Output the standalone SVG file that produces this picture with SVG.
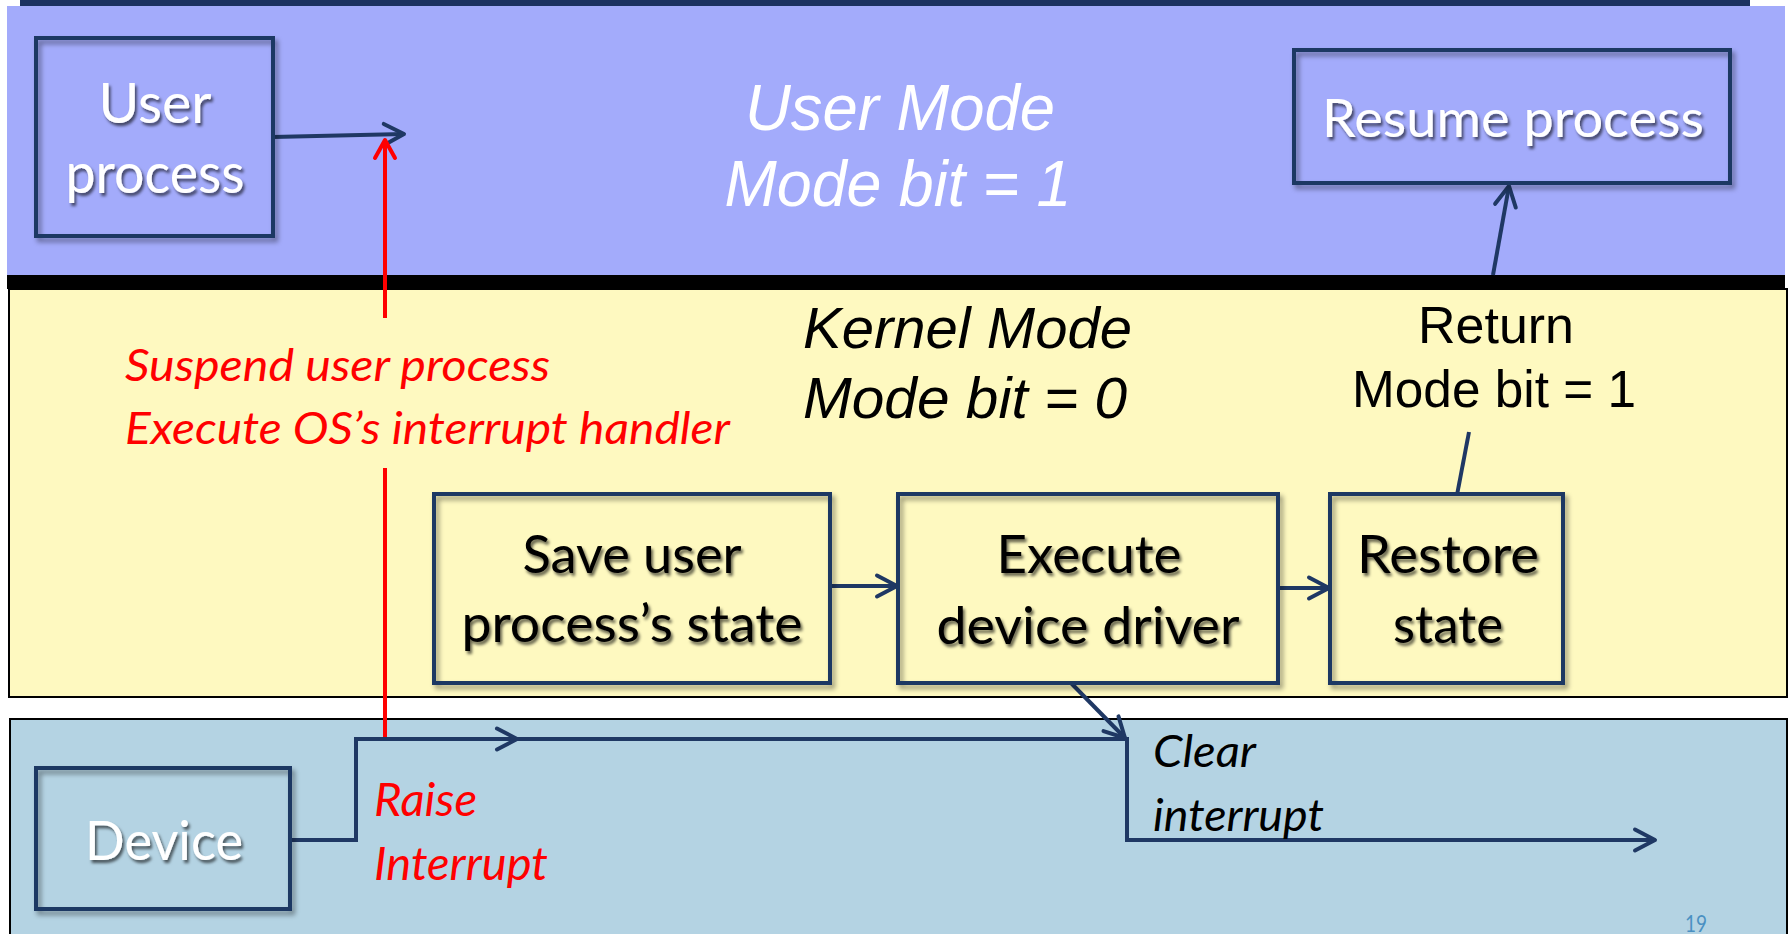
<svg xmlns="http://www.w3.org/2000/svg" width="1790" height="934" viewBox="0 0 1790 934">
  <style>
    .box { fill: none; stroke: #1f3864; stroke-width: 4; filter: url(#boxShadow); }
    .gill { font-family: Lato, "Open Sans", "DejaVu Sans", sans-serif; }
    .arial { font-family: "Liberation Sans", Arial, sans-serif; }
    .lbl-w { fill: #ffffff; filter: url(#textShadow); text-anchor: middle; }
    .lbl-k { fill: #000000; filter: url(#textShadow); text-anchor: middle; }
    .note-red { fill: #ff0000; font-style: italic; }
    .note-k { fill: #000000; font-style: italic; }
    .wire { fill: none; stroke: #1f3864; stroke-width: 4; stroke-linejoin: miter; }
    .wire-red { fill: none; stroke: #ff0000; stroke-width: 4; }
  </style>
  <defs>
    <filter id="boxShadow" x="-10%" y="-10%" width="125%" height="130%">
      <feDropShadow dx="3" dy="4" stdDeviation="2.5" flood-color="#000" flood-opacity="0.4"/>
    </filter>
    <filter id="textShadow" x="-5%" y="-20%" width="115%" height="150%">
      <feDropShadow dx="2" dy="3" stdDeviation="1.6" flood-color="#000" flood-opacity="0.6"/>
    </filter>
    <marker id="chev" markerUnits="userSpaceOnUse" viewBox="-24 -14 28 28" markerWidth="28" markerHeight="28" refX="0" refY="0" orient="auto" overflow="visible">
      <path d="M-20,-10.5 L0,0 L-20,10.5" fill="none" stroke="#1f3864" stroke-width="4" stroke-linecap="round" stroke-linejoin="round"/>
    </marker>
    <marker id="chevRed" markerUnits="userSpaceOnUse" viewBox="-24 -14 28 28" markerWidth="28" markerHeight="28" refX="0" refY="0" orient="auto" overflow="visible">
      <path d="M-18,-10 L0,0 L-18,10" fill="none" stroke="#ff0000" stroke-width="4" stroke-linecap="round" stroke-linejoin="round"/>
    </marker>
  </defs>

  <!-- mode bands -->
  <g id="bands">
    <rect x="20" y="0" width="1730" height="6" fill="#1c3260"/>
    <rect x="7" y="6" width="1778" height="270" fill="#a3abfb"/>
    <rect x="9" y="289" width="1778" height="408" fill="#fef9c0" stroke="#000" stroke-width="2"/>
    <rect x="7" y="275" width="1778" height="14" fill="#000"/>
    <rect x="10" y="719" width="1777" height="230" fill="#b4d3e3" stroke="#000" stroke-width="2"/>
  </g>

  <!-- band titles -->
  <g id="user-mode-title" class="arial" font-style="italic" font-size="64" fill="#fff" text-anchor="middle">
    <text x="900" y="130" textLength="310" lengthAdjust="spacingAndGlyphs">User Mode</text>
    <text x="898" y="206" textLength="347" lengthAdjust="spacingAndGlyphs">Mode bit = 1</text>
  </g>
  <g id="kernel-mode-title" class="arial" font-style="italic" font-size="58" fill="#000">
    <text x="803" y="348" textLength="329" lengthAdjust="spacingAndGlyphs">Kernel Mode</text>
    <text x="803" y="418" textLength="324" lengthAdjust="spacingAndGlyphs">Mode bit = 0</text>
  </g>

  <!-- connectors -->
  <g id="connectors">
    <path class="wire" d="M273,137 L404,134" marker-end="url(#chev)"/>
    <path class="wire-red" d="M385,740 V468"/>
    <path class="wire-red" d="M385,318 V140" marker-end="url(#chevRed)"/>
    <path class="wire" d="M830,586 H897" marker-end="url(#chev)"/>
    <path class="wire" d="M1278,588 H1329" marker-end="url(#chev)"/>
    <path class="wire" d="M1457,495 L1469,432"/>
    <path class="wire" d="M1493,275 L1509,186" marker-end="url(#chev)"/>
    <path class="wire" d="M1071,683 L1125,738" marker-end="url(#chev)"/>
    <path class="wire" d="M290,840 H356 V739 H517" marker-end="url(#chev)"/>
    <path class="wire" d="M517,739 H1127 V840 H1655" marker-end="url(#chev)"/>
  </g>

  <!-- connector labels -->
  <g id="suspend-label" class="gill note-red" font-size="45">
    <text x="125" y="381" textLength="425" lengthAdjust="spacingAndGlyphs">Suspend user process</text>
    <text x="125" y="444" textLength="605" lengthAdjust="spacingAndGlyphs">Execute OS’s interrupt handler</text>
  </g>
  <g id="raise-label" class="gill note-red" font-size="46">
    <text x="374" y="816" textLength="103" lengthAdjust="spacingAndGlyphs">Raise</text>
    <text x="374" y="880" textLength="174" lengthAdjust="spacingAndGlyphs">Interrupt</text>
  </g>
  <g id="clear-label" class="gill note-k" font-size="45">
    <text x="1153" y="767" textLength="103" lengthAdjust="spacingAndGlyphs">Clear</text>
    <text x="1153" y="831" textLength="171" lengthAdjust="spacingAndGlyphs">interrupt</text>
  </g>
  <g id="return-label" class="arial" font-size="52" fill="#000" text-anchor="middle">
    <text x="1496" y="343" textLength="156" lengthAdjust="spacingAndGlyphs">Return</text>
    <text x="1494" y="407" textLength="284" lengthAdjust="spacingAndGlyphs">Mode bit = 1</text>
  </g>

  <!-- nodes -->
  <g id="user-process">
    <rect class="box" x="36" y="38" width="237" height="198"/>
    <text class="gill lbl-w" font-size="56" x="155" y="123" textLength="113" lengthAdjust="spacingAndGlyphs">User</text>
    <text class="gill lbl-w" font-size="56" x="155" y="193" textLength="179" lengthAdjust="spacingAndGlyphs">process</text>
  </g>
  <g id="resume-process">
    <rect class="box" x="1294" y="50" width="436" height="133"/>
    <text class="gill lbl-w" font-size="53" x="1513" y="137" textLength="382" lengthAdjust="spacingAndGlyphs">Resume process</text>
  </g>
  <g id="save-state">
    <rect class="box" x="434" y="494" width="396" height="189"/>
    <text class="gill lbl-k" font-size="52" x="632" y="573" textLength="219" lengthAdjust="spacingAndGlyphs">Save user</text>
    <text class="gill lbl-k" font-size="52" x="632" y="642" textLength="341" lengthAdjust="spacingAndGlyphs">process’s state</text>
  </g>
  <g id="execute-driver">
    <rect class="box" x="898" y="494" width="380" height="189"/>
    <text class="gill lbl-k" font-size="52" x="1089" y="573" textLength="185" lengthAdjust="spacingAndGlyphs">Execute</text>
    <text class="gill lbl-k" font-size="52" x="1088" y="644" textLength="303" lengthAdjust="spacingAndGlyphs">device driver</text>
  </g>
  <g id="restore-state">
    <rect class="box" x="1330" y="494" width="233" height="189"/>
    <text class="gill lbl-k" font-size="52" x="1448" y="573" textLength="182" lengthAdjust="spacingAndGlyphs">Restore</text>
    <text class="gill lbl-k" font-size="52" x="1448" y="643" textLength="110" lengthAdjust="spacingAndGlyphs">state</text>
  </g>
  <g id="device">
    <rect class="box" x="36" y="768" width="254" height="141"/>
    <text class="gill lbl-w" font-size="54" x="164" y="860" textLength="158" lengthAdjust="spacingAndGlyphs">Device</text>
  </g>

  <!-- page number -->
  <text class="gill" x="1685" y="932" font-size="23" fill="#4a90c2" textLength="22" lengthAdjust="spacingAndGlyphs">19</text>
</svg>
